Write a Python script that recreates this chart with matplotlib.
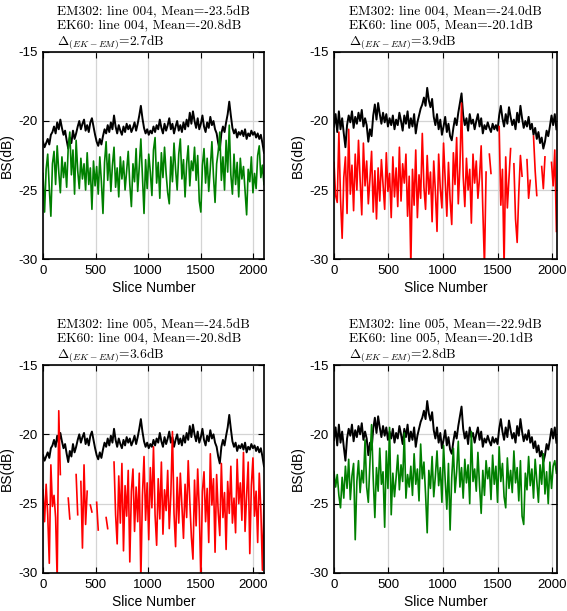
import numpy as np
from matplotlib import pyplot as plt

plt.rcParams['font.family'] = ['Liberation Sans', 'DejaVu Sans']
plt.rcParams['mathtext.fontset'] = 'cm'
plt.rcParams['axes.unicode_minus'] = False  # plain hyphen on tick labels, like MATLAB

nan = np.nan

# slice numbers of the two EK60 lines (every 15th slice)
slices_004 = np.arange(0, 2101, 15)
slices_005 = np.arange(0, 2041, 15)

# EK60 line 004, BS (dB)
ek60_004 = [
    -21.5, -21.9, -21.6, -21.3, -21.7, -21.0, -20.8,
    -20.4, -20.9, -20.1, -20.6, -19.9, -20.5, -21.0, -20.7,
    -21.4, -22.0, -21.2, -21.6, -20.7, -21.3, -20.9, -20.4,
    -20.0, -20.6, -20.2, -19.9, -20.7, -20.3, -20.8, -20.1,
    -19.8, -20.4, -21.0, -21.5, -21.8, -21.3, -21.7, -21.1,
    -20.6, -20.9, -20.3, -20.8, -20.1, -20.6, -19.6, -20.4,
    -20.9, -20.3, -20.7, -21.0, -20.4, -20.8, -20.2, -20.6,
    -20.3, -20.8, -20.5, -20.1, -20.7, -20.2, -19.6, -18.9,
    -19.8, -20.5, -20.9, -20.6, -21.0, -20.7, -20.9, -20.4,
    -20.8, -20.3, -20.6, -19.9, -20.5, -20.9, -20.2, -20.7,
    -20.3, -19.8, -20.6, -20.2, -20.9, -20.4, -20.0, -20.7,
    -20.3, -20.8, -20.1, -20.6, -19.9, -20.4, -19.4, -20.2,
    -19.3, -20.0, -20.5, -19.8, -20.6, -20.2, -19.6, -20.4,
    -20.8, -20.1, -20.5, -19.7, -20.3, -20.0, -20.6, -20.9,
    -21.6, -22.1, -20.9, -20.4, -20.8, -20.1, -19.5, -18.6,
    -19.6, -20.5, -20.9, -20.6, -21.2, -20.8, -21.0, -20.7,
    -21.1, -20.6, -21.3, -20.9, -21.1, -20.7, -21.0, -20.8,
    -21.2, -20.9, -21.3, -21.0, -21.6, -22.3,
]

# EK60 line 005, BS (dB)
ek60_005 = [
    -20.4, -19.5, -20.8, -19.3, -20.6, -19.8, -20.9,
    -21.9, -20.3, -19.6, -20.1, -19.3, -20.5, -19.7, -20.2,
    -19.4, -20.0, -19.2, -20.4, -19.8, -20.3, -21.5, -20.6,
    -21.1, -19.6, -18.8, -19.9, -18.7, -19.5, -20.2, -19.4,
    -20.1, -19.5, -20.4, -19.8, -20.3, -19.6, -20.6, -19.9,
    -20.3, -19.4, -20.0, -20.7, -19.6, -20.2, -19.3, -20.5,
    -19.8, -20.4, -19.5, -20.9, -20.1, -19.6, -19.1, -18.8,
    -18.3, -18.9, -17.6, -18.5, -19.0, -18.4, -19.7, -20.3,
    -19.5, -20.6, -19.9, -21.0, -20.4, -19.7, -20.8, -20.2,
    -21.1, -21.4, -20.5, -19.8, -20.3, -19.4, -18.7, -18.0,
    -19.6, -20.3, -19.8, -20.7, -19.5, -20.2, -19.9, -20.6,
    -20.0, -19.5, -20.4, -19.8, -20.9, -20.3, -20.6, -20.1,
    -20.5, -20.8, -20.2, -20.6, -20.3, -20.7, -19.6, -18.9,
    -19.8, -20.4, -19.5, -20.2, -19.0, -19.7, -20.3, -19.9,
    -20.6, -19.4, -20.1, -18.9, -19.8, -20.5, -20.0, -20.4,
    -19.7, -20.6, -20.2, -21.0, -20.5, -21.3, -20.8, -21.6,
    -21.2, -22.0, -21.5, -20.7, -21.1, -20.4, -19.6, -20.3,
    -19.5, -20.6,
]

# EM302 line 004 matched to EK60 line 004
em302_004_a = [
    -23.8, -26.6, -23.5, -22.4, -24.9, -26.9, -23.1,
    -22.2, -24.6, -21.8, -23.7, -25.2, -22.6, -24.1, -23.0,
    -24.8, -21.9, -20.8, -23.9, -22.1, -25.3, -21.4, -23.6,
    -24.9, -22.7, -24.2, -23.1, -25.0, -22.3, -24.6, -23.4,
    -26.4, -22.9, -24.7, -23.3, -25.3, -22.6, -24.4, -26.7,
    -23.0, -21.5, -24.3, -22.4, -25.1, -23.2, -21.9, -24.8,
    -23.4, -25.5, -22.6, -24.2, -22.9, -25.0, -23.6, -22.2,
    -24.6, -26.2, -23.1, -24.4, -22.0, -25.1, -23.3, -21.3,
    -24.0, -26.7, -22.8, -24.9, -22.4, -23.7, -25.4, -22.1,
    -21.2, -24.5, -23.0, -25.6, -22.3, -24.1, -21.9, -23.8,
    -25.2, -26.0, -22.6, -24.4, -21.6, -23.5, -25.0, -22.4,
    -21.3, -24.2, -22.8, -25.5, -23.1, -21.8, -24.7, -22.9,
    -23.6, -21.9, -24.3, -22.5, -25.8, -26.6, -23.2, -22.0,
    -24.5, -22.7, -25.1, -23.4, -21.5, -24.0, -25.9, -23.1,
    -22.2, -20.8, -24.3, -22.6, -25.0, -21.4, -23.7, -20.3,
    -23.9, -25.3, -22.4, -24.6, -23.0, -25.5, -22.7, -24.2,
    -23.3, -25.0, -26.8, -23.5, -24.4, -22.6, -25.2, -23.8,
    -24.9, -22.5, -21.8, -24.1, -23.2, -24.6,
]

# EM302 line 004 matched to EK60 line 005
em302_004_b = [
    -23.0, -25.4, -25.9, -20.8, -25.6, -28.5, -24.1,
    -22.6, -26.7, -20.6, -25.3, -23.2, -26.5, -22.4, -25.0,
    -21.4, -24.3, -26.8, -21.6, -24.7, -22.9, -26.0, -24.2,
    -22.2, -26.6, -23.6, -27.1, -23.4, -25.8, -22.8, -24.6,
    -26.4, -22.3, -25.1, -23.8, -27.0, -22.6, -25.5, -23.4,
    -26.2, -21.9, -25.8, -23.1, -24.5, -22.4, -26.9, -24.0,
    -30.5, -23.5, -26.1, -22.1, -27.0, -23.9, -25.6, -20.9,
    -24.8, -26.4, -22.5, -25.3, -23.7, -27.3, -22.9, -25.1,
    -28.0, -22.4, -24.9, -26.3, -21.6, -24.2, -26.9, -23.0,
    -25.7, -27.5, -22.3, -24.6, -21.2, -26.0, -23.3, -18.7,
    -24.0, -26.2, -22.7, -25.0, -23.5, -27.4, -22.4, -24.5,
    -22.9, -25.6, -24.1, -21.8, -26.4, -30.5, -23.7, nan,
    -22.4, -23.8, nan, nan, nan, nan, -20.4, -26.1,
    -23.5, -30.5, -22.6, -26.3, -24.2, -22.0, nan, -23.1,
    -27.1, -28.8, -25.2, -22.5, -24.0, nan, nan, -22.8,
    -25.6, -24.3, nan, -21.1, -23.6, -25.4, nan, nan,
    -23.3, -24.9, -22.6, nan, nan, nan, -23.0, -24.7,
    -22.1, -28.0,
]

# EM302 line 005 matched to EK60 line 004
em302_005_a = [
    -24.0, -26.3, -23.6, -25.8, -29.3, -22.2, -25.2,
    -24.4, -26.0, -30.5, -18.3, -22.9, nan, nan, nan,
    nan, -24.6, -26.1, nan, nan, nan, -22.9, -25.8,
    nan, -23.4, -28.2, -22.2, -26.5, -24.1, nan, -25.1,
    -25.6, nan, nan, -24.9, -26.9, nan, nan, nan,
    nan, -26.0, -26.8, nan, nan, nan, -22.0, -25.8,
    -27.9, -23.0, -26.4, -22.1, -28.4, -23.7, -25.9, -22.6,
    -29.2, -24.1, -22.5, -27.0, -23.8, -26.3, -22.8, -30.5,
    -24.4, -21.6, -26.2, -23.5, -27.6, -22.4, -25.3, -20.9,
    -25.8, -28.0, -23.2, -26.1, -22.0, -27.2, -24.0, -25.5,
    -22.6, -26.8, -24.3, -19.8, -25.7, -28.1, -23.1, -26.4,
    -22.8, -25.2, -27.5, -23.6, -26.0, -21.9, -24.8, -27.4,
    -29.0, -23.3, -26.6, -22.5, -25.4, -30.5, -24.1, -22.7,
    -26.3, -23.9, -27.8, -21.4, -25.1, -23.2, -28.5, -22.9,
    -25.6, -27.3, -22.1, -26.0, -24.2, -28.3, -23.4, -25.7,
    -22.3, -26.4, -24.6, -27.1, -21.8, -25.0, -23.5, -26.2,
    -21.3, -27.0, -24.4, -22.0, -28.6, -23.7, -21.7, -25.9,
    -24.1, -27.8, -22.8, -25.4, -29.8, -24.8,
]

# EM302 line 005 matched to EK60 line 005
em302_005_b = [
    -22.7, -23.8, -22.9, -24.4, -25.3, -23.1, -24.6,
    -22.3, -23.9, -21.8, -24.7, -23.0, -22.1, -27.6, -23.4,
    -21.9, -24.2, -22.6, -23.5, -20.4, -23.8, -24.9, -22.0,
    -19.3, -23.2, -26.0, -22.4, -24.1, -21.0, -23.6, -22.7,
    -26.7, -21.2, -23.9, -19.5, -25.8, -22.8, -24.5, -23.1,
    -21.5, -24.0, -22.2, -23.4, -19.9, -24.6, -22.9, -23.8,
    -22.3, -24.4, -21.4, -23.6, -22.5, -24.8, -20.7, -23.2,
    -22.0, -24.3, -27.1, -22.6, -23.9, -21.6, -24.5, -23.0,
    -21.2, -23.7, -22.4, -24.9, -20.8, -23.3, -25.4, -22.1,
    -26.9, -23.1, -21.0, -24.2, -22.7, -20.5, -23.8, -22.4,
    -24.6, -21.8, -23.5, -22.2, -25.0, -19.8, -23.4, -22.5,
    -24.1, -21.3, -23.7, -25.7, -22.6, -24.4, -21.9, -23.2,
    -22.4, -24.7, -21.5, -23.6, -22.3, -24.9, -20.9, -23.4,
    -22.1, -24.5, -25.3, -21.7, -23.9, -22.6, -24.2, -21.2,
    -23.5, -22.4, -24.8, -21.9, -25.9, -26.5, -22.8, -24.0,
    -21.6, -23.7, -22.5, -24.6, -21.8, -23.3, -24.9, -22.2,
    -23.6, -21.4, -24.3, -22.7, -25.0, -22.0, -23.9, -22.3,
    -21.9, -22.8,
]

titles = [
    'EM302: line 004, Mean=-23.5dB\nEK60: line 004, Mean=-20.8dB\n$\\Delta_{(EK-EM)}$=2.7dB',
    'EM302: line 004, Mean=-24.0dB\nEK60: line 005, Mean=-20.1dB\n$\\Delta_{(EK-EM)}$=3.9dB',
    'EM302: line 005, Mean=-24.5dB\nEK60: line 004, Mean=-20.8dB\n$\\Delta_{(EK-EM)}$=3.6dB',
    'EM302: line 005, Mean=-22.9dB\nEK60: line 005, Mean=-20.1dB\n$\\Delta_{(EK-EM)}$=2.8dB',
]

panels = [
    (slices_004, ek60_004, em302_004_a, '#008000', 2100),
    (slices_005, ek60_005, em302_004_b, '#ff0000', 2045),
    (slices_004, ek60_004, em302_005_a, '#ff0000', 2100),
    (slices_005, ek60_005, em302_005_b, '#008000', 2045),
]

# axes boxes (left, bottom, width, height) in figure fraction
boxes = [
    [0.0758, 0.5761, 0.3898, 0.3388],
    [0.5890, 0.5761, 0.3933, 0.3388],
    [0.0758, 0.0622, 0.3898, 0.3404],
    [0.5890, 0.0622, 0.3933, 0.3404],
]

fig = plt.figure(figsize=(5.67, 6.11), dpi=100)

for (x, ek, em, col, xmax), box, title in zip(panels, boxes, titles):
    ax = fig.add_axes(box)
    ax.plot(x, ek, color='k', linewidth=1.4)
    ax.plot(x, em, color=col, linewidth=1.2)
    ax.set_xlim(0, xmax)
    ax.set_ylim(-30, -15)
    ax.set_xticks([0, 500, 1000, 1500, 2000])
    ax.set_yticks([-30, -25, -20, -15])
    ax.grid(color='#d4d4d4', linewidth=0.9)
    ax.set_axisbelow(True)
    ax.tick_params(direction='in', top=True, right=True, length=4, width=0.8,
                   labelsize=9.5, pad=4)
    for sp in ax.spines.values():
        sp.set_linewidth(1.2)
    ax.set_xlabel('Slice Number', fontsize=10, labelpad=3)
    ax.set_ylabel('BS(dB)', fontsize=10, labelpad=3)
    ax.set_title(title, fontsize=9.7, family='cmr10', ma='left', pad=5,
                 linespacing=1.15)

plt.savefig('out.png', dpi=100)
